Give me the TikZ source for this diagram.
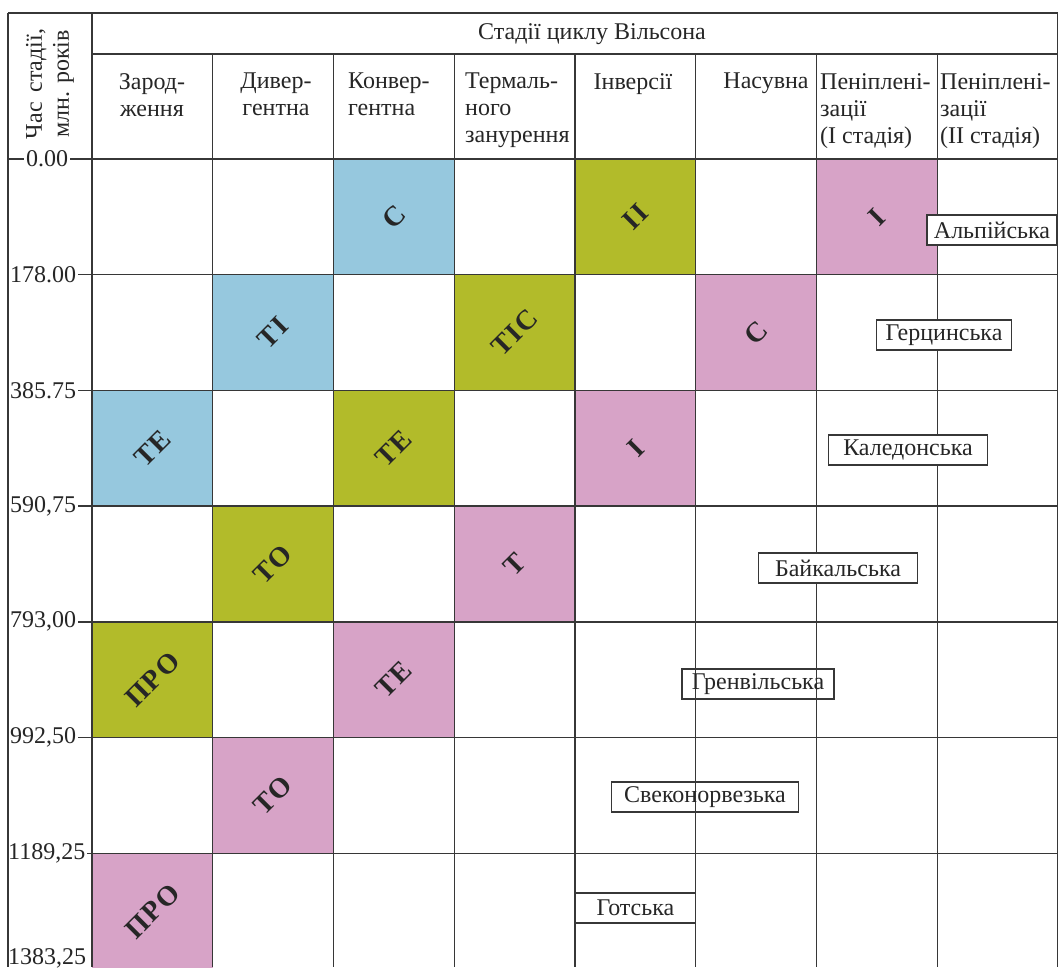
\documentclass[tikz,border=0pt]{standalone}
\usepackage{fontspec}
\setmainfont{Liberation Serif}
\newfontfamily\cellfont{Liberation Serif}[LetterSpace=6]
\definecolor{cblue}{RGB}{150,200,222}
\definecolor{cgreen}{RGB}{178,187,42}
\definecolor{cpink}{RGB}{215,163,199}
\definecolor{gridc}{RGB}{55,55,55}

\begin{document}
\begin{tikzpicture}[x=1pt,y=-1pt,
    font=\fontsize{24}{27}\selectfont,text=black!85,
    grid/.style={draw=gridc,line width=1.4pt},
    celltext/.style={rotate=45,inner sep=0pt,font=\cellfont\bfseries\fontsize{28}{30}\selectfont},
    epoch/.style={draw=gridc,line width=1.1pt,fill=white,inner xsep=4pt,minimum height=30pt},
    epochclear/.style={epoch,fill=none},
    timelabel/.style={fill=white,inner xsep=2pt,inner ysep=1pt,anchor=west},
    head/.style={anchor=north,inner sep=0pt,align=center},
    headl/.style={anchor=north west,inner sep=0pt,align=left}]
  \useasboundingbox (0,0) rectangle (1059,967);
  \clip (0,0) rectangle (1059,967);

  % coloured stages
  \foreach \c/\r/\clr/\txt in {3/1/cblue/С, 5/1/cgreen/ІІ, 7/1/cpink/І,
      2/2/cblue/ТІ, 4/2/cgreen/ТІС, 6/2/cpink/С,
      1/3/cblue/ТЕ, 3/3/cgreen/ТЕ, 5/3/cpink/І,
      2/4/cgreen/ТО, 4/4/cpink/Т,
      1/5/cgreen/ПРО, 3/5/cpink/ТЕ,
      2/6/cpink/ТО,
      1/7/cpink/ПРО} {
    \fill[\clr] ({92+(\c-1)*120.75},{159+(\r-1)*115.7}) rectangle ++(120.75,115.7);
    \node[celltext] (cell\c\r) at ({92+(\c-0.5)*120.75},{159+(\r-0.5)*115.7}) {\txt};
  }

  % table lines
  \draw[grid] (8,13) -- (1057.5,13) -- (1057.5,967);
  \draw[grid] (92,13) -- (92,967);
  \draw[grid] (92,54) -- (1057.5,54);
  \foreach \k in {1,...,7}
    \draw[grid] ({92+\k*120.75},54) -- ({92+\k*120.75},967);
  \foreach \k in {0,...,6}
    \draw[grid] (8,{159+\k*115.7}) -- (1057.5,{159+\k*115.7});

  % time scale
  \node[timelabel] (t0) at (24,159) {0.00};
  \node[timelabel] (t1) at (8,274.7) {178.00};
  \node[timelabel] (t2) at (8,390.4) {385.75};
  \node[timelabel] (t3) at (8,506.1) {590,75};
  \node[timelabel] (t4) at (8,621.8) {793,00};
  \node[timelabel] (t5) at (8,737.5) {992,50};
  \node[timelabel] (t6) at (6,853.2) {1189,25};
  \node[timelabel] (t7) at (6,958) {1383,25};
  \draw[grid] (8,13) -- (8,967);

  % headers
  \node[rotate=90,inner sep=0pt,align=center] (timehead) at (50,84) {Час\hspace{0.4em}стадії,\\млн. років};
  \node (stages) at (592,34) {Стадії циклу Вільсона};
  \node[head] (h1) at (152,73) {Зарод-\\ження};
  \node[head] (h2) at (276,73) {Дивер-\\гентна};
  \node[headl] (h3) at (348,73) {Конвер-\\гентна};
  \node[headl] (h4) at (465,73) {Термаль-\\ного\\занурення};
  \node[head] (h5) at (633,73) {Інверсії};
  \node[head] (h6) at (766,73) {Насувна};
  \node[headl] (h7) at (820,73) {Пеніплені-\\зації\\(І стадія)};
  \node[headl] (h8) at (940,73) {Пеніплені-\\зації\\(ІІ стадія)};

  % orogenies
  \node[epoch,minimum width=130pt] (alp) at (992,230) {Альпійська};
  \node[epoch,minimum width=135pt] (herc) at (944,335) {Герцинська};
  \node[epoch,minimum width=159pt] (kal) at (908,450) {Каледонська};
  \node[epoch,minimum width=159pt] (baik) at (838,568) {Байкальська};
  \node[epochclear,minimum width=152pt] (gren) at (758,684) {Гренвільська};
  \node[epochclear,minimum width=187pt] (svek) at (705,797) {Свеконорвезька};
  \node[epoch,minimum width=120.75pt] (gots) at (635.4,908) {Готська};
\end{tikzpicture}
\end{document}
